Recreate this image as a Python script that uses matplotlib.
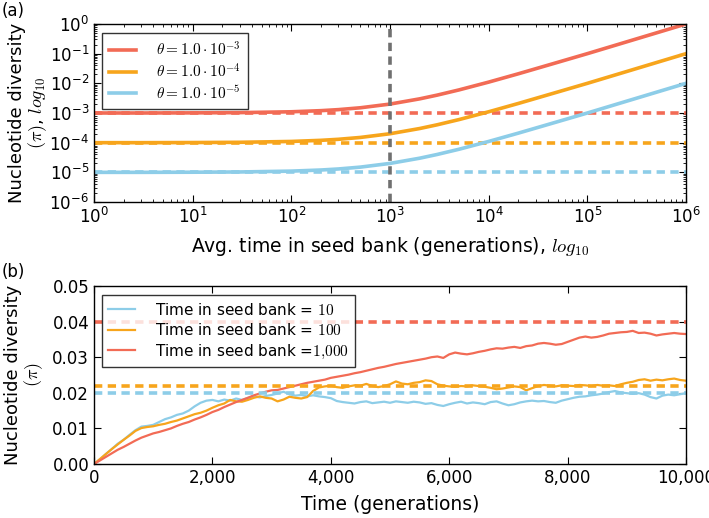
import matplotlib
matplotlib.use("Agg")
import matplotlib.pyplot as plt
from matplotlib.ticker import FuncFormatter, LogLocator, NullFormatter
import numpy as np

plt.rcParams['mathtext.fontset'] = 'cm'
plt.rcParams['font.family'] = ['DejaVu Sans']

RED = '#f26b55'
ORANGE = '#f7a51c'
BLUE = '#8dcde8'

# ---- Panel (a) data ----
seed_time = [1, 3, 10, 30, 100, 200, 300, 500, 1000, 2000, 3000, 5000,
             1e4, 2e4, 5e4, 1e5, 2e5, 5e5, 1e6]
pi_theta3 = [1.0e-3, 1.0e-3, 1.01e-3, 1.03e-3, 1.1e-3, 1.2e-3, 1.3e-3, 1.5e-3,
             2.0e-3, 3.0e-3, 4.0e-3, 6.0e-3, 1.1e-2, 2.1e-2, 5.1e-2, 0.10,
             0.20, 0.50, 1.0]
pi_theta4 = [1.0e-4, 1.0e-4, 1.01e-4, 1.03e-4, 1.1e-4, 1.2e-4, 1.3e-4, 1.5e-4,
             2.0e-4, 3.0e-4, 4.0e-4, 6.0e-4, 1.1e-3, 2.1e-3, 5.1e-3, 1.0e-2,
             2.0e-2, 5.0e-2, 0.10]
pi_theta5 = [1.0e-5, 1.0e-5, 1.01e-5, 1.03e-5, 1.1e-5, 1.2e-5, 1.3e-5, 1.5e-5,
             2.0e-5, 3.0e-5, 4.0e-5, 6.0e-5, 1.1e-4, 2.1e-4, 5.1e-4, 1.0e-3,
             2.0e-3, 5.0e-3, 1.0e-2]
theta_levels = [1e-3, 1e-4, 1e-5]
theta_labels = [r'$\theta = 1.0 \cdot 10^{-3}$', r'$\theta = 1.0 \cdot 10^{-4}$',
                r'$\theta = 1.0 \cdot 10^{-5}$']
ref_time = 1000

# ---- Panel (b) data (every 100 generations) ----
generations = list(range(0, 10001, 100))
pi_blue = [0, 0.0013, 0.0028, 0.0042, 0.0057, 0.0068, 0.0082, 0.0095, 0.0105, 0.0107,
           0.0110, 0.0118, 0.0126, 0.0131, 0.0138, 0.0142, 0.0150, 0.0162, 0.0172, 0.0178,
           0.0180, 0.0176, 0.0181, 0.0178, 0.0184, 0.0180, 0.0186, 0.0190, 0.0187, 0.0191,
           0.0194, 0.0198, 0.0203, 0.0196, 0.0192, 0.0194, 0.0190, 0.0193, 0.0190, 0.0188,
           0.0185, 0.0177, 0.0174, 0.0172, 0.0170, 0.0174, 0.0176, 0.0171, 0.0173, 0.0175,
           0.0172, 0.0176, 0.0174, 0.0172, 0.0175, 0.0173, 0.0169, 0.0171, 0.0166, 0.0163,
           0.0168, 0.0172, 0.0175, 0.0170, 0.0173, 0.0171, 0.0168, 0.0174, 0.0176, 0.0170,
           0.0165, 0.0168, 0.0173, 0.0176, 0.0178, 0.0176, 0.0177, 0.0174, 0.0172, 0.0178,
           0.0182, 0.0186, 0.0189, 0.0190, 0.0193, 0.0195, 0.0198, 0.0202, 0.0205, 0.0201,
           0.0199, 0.0197, 0.0199, 0.0195, 0.0188, 0.0184, 0.0192, 0.0195, 0.0193, 0.0196,
           0.0199]
pi_orange = [0, 0.0014, 0.0028, 0.0042, 0.0055, 0.0068, 0.0080, 0.0093, 0.0101, 0.0104,
             0.0106, 0.0110, 0.0113, 0.0118, 0.0122, 0.0128, 0.0134, 0.0140, 0.0144, 0.0150,
             0.0158, 0.0165, 0.0170, 0.0180, 0.0176, 0.0175, 0.0180, 0.0186, 0.0190, 0.0186,
             0.0184, 0.0176, 0.0181, 0.0189, 0.0186, 0.0184, 0.0188, 0.0205, 0.0215, 0.0218,
             0.0220, 0.0216, 0.0214, 0.0218, 0.0221, 0.0220, 0.0225, 0.0219, 0.0216, 0.0219,
             0.0224, 0.0232, 0.0226, 0.0224, 0.0228, 0.0230, 0.0235, 0.0233, 0.0224, 0.0220,
             0.0218, 0.0217, 0.0219, 0.0218, 0.0221, 0.0219, 0.0217, 0.0214, 0.0210, 0.0212,
             0.0215, 0.0218, 0.0216, 0.0207, 0.0213, 0.0219, 0.0222, 0.0220, 0.0218, 0.0221,
             0.0220, 0.0219, 0.0222, 0.0221, 0.0219, 0.0222, 0.0220, 0.0221, 0.0219, 0.0224,
             0.0228, 0.0231, 0.0236, 0.0238, 0.0234, 0.0237, 0.0235, 0.0238, 0.0240, 0.0236,
             0.0234]
pi_red = [0, 0.0010, 0.0020, 0.0030, 0.0040, 0.0048, 0.0057, 0.0066, 0.0074, 0.0080,
          0.0086, 0.0090, 0.0095, 0.0100, 0.0107, 0.0113, 0.0118, 0.0125, 0.0131, 0.0138,
          0.0146, 0.0152, 0.0160, 0.0167, 0.0174, 0.0180, 0.0186, 0.0193, 0.0198, 0.0203,
          0.0207, 0.0208, 0.0212, 0.0216, 0.0220, 0.0224, 0.0228, 0.0231, 0.0234, 0.0237,
          0.0242, 0.0245, 0.0248, 0.0251, 0.0255, 0.0258, 0.0262, 0.0266, 0.0270, 0.0273,
          0.0277, 0.0281, 0.0284, 0.0287, 0.0290, 0.0293, 0.0296, 0.0300, 0.0302, 0.0298,
          0.0308, 0.0313, 0.0310, 0.0308, 0.0311, 0.0315, 0.0318, 0.0322, 0.0325, 0.0324,
          0.0327, 0.0329, 0.0326, 0.0331, 0.0333, 0.0338, 0.0340, 0.0338, 0.0335, 0.0337,
          0.0343, 0.0349, 0.0355, 0.0358, 0.0355, 0.0357, 0.0361, 0.0366, 0.0368, 0.0370,
          0.0371, 0.0374, 0.0368, 0.0369, 0.0366, 0.0361, 0.0364, 0.0366, 0.0368, 0.0366,
          0.0365]
expected_pi = {'10': 0.020, '100': 0.022, '1000': 0.040}
legend_b = ['Time in seed bank = $10$', 'Time in seed bank = $100$',
            'Time in seed bank =$1{,}000$']

DASH = (0, (2.3, 1.5))

fig = plt.figure(figsize=(7.09, 5.18), dpi=100)
ax1 = fig.add_axes([0.1326, 0.610, 0.835, 0.3437])
ax2 = fig.add_axes([0.1326, 0.1042, 0.835, 0.3437])

# Panel a
for ys, lvl, c, lab in zip([pi_theta3, pi_theta4, pi_theta5], theta_levels,
                           [RED, ORANGE, BLUE], theta_labels):
    ax1.plot(seed_time, ys, color=c, lw=2.6, label=lab)
    ax1.axhline(lvl, color=c, lw=2.6, ls=DASH)
ax1.axvline(ref_time, color='#707070', lw=2.6, ls=DASH)
ax1.set_xscale('log')
ax1.set_yscale('log')
ax1.set_xlim(1, 1e6)
ax1.set_ylim(1e-6, 1)
ax1.xaxis.set_major_locator(LogLocator(base=10, numticks=10))
ax1.yaxis.set_major_locator(LogLocator(base=10, numticks=10))
ax1.xaxis.set_minor_locator(LogLocator(base=10, subs=np.arange(2, 10), numticks=20))
ax1.yaxis.set_minor_locator(LogLocator(base=10, subs=np.arange(2, 10), numticks=20))
ax1.xaxis.set_minor_formatter(NullFormatter())
ax1.yaxis.set_minor_formatter(NullFormatter())
ax1.set_xlabel(r'Avg. time in seed bank (generations), $log_{10}$', fontsize=13.5, labelpad=6)
ax1.set_ylabel('Nucleotide diversity\n' + r'$(\pi)$, $log_{10}$', fontsize=13,
               linespacing=1.05)
ax1.yaxis.set_label_coords(-0.076, 0.5)
leg1 = ax1.legend(loc='upper left', fontsize=11, frameon=True, fancybox=False,
                  edgecolor='black', handlelength=1.8, handletextpad=1.3,
                  borderpad=0.45, labelspacing=0.25, bbox_to_anchor=(0.0, 0.99))
leg1.get_frame().set_linewidth(1.0)

# Panel b
ax2.plot(generations, pi_blue, color=BLUE, lw=1.6, label=legend_b[0])
ax2.plot(generations, pi_orange, color=ORANGE, lw=1.6, label=legend_b[1])
ax2.plot(generations, pi_red, color=RED, lw=1.6, label=legend_b[2])
ax2.axhline(expected_pi['10'], color=BLUE, lw=2.6, ls=DASH)
ax2.axhline(expected_pi['100'], color=ORANGE, lw=2.6, ls=DASH)
ax2.axhline(expected_pi['1000'], color=RED, lw=2.6, ls=DASH)
ax2.set_xlim(0, 10000)
ax2.set_ylim(0, 0.05)
ax2.set_xticks([0, 2000, 4000, 6000, 8000, 10000])
ax2.set_yticks([0, 0.01, 0.02, 0.03, 0.04, 0.05])
ax2.xaxis.set_major_formatter(FuncFormatter(lambda v, p: f'{int(v):,}'))
ax2.yaxis.set_major_formatter(FuncFormatter(lambda v, p: f'{v:.2f}'))
ax2.set_xlabel('Time (generations)', fontsize=13.5, labelpad=6)
ax2.set_ylabel('Nucleotide diversity\n' + r'$(\pi)$', fontsize=13, linespacing=1.05)
ax2.yaxis.set_label_coords(-0.082, 0.5)
leg2 = ax2.legend(loc='upper left', fontsize=11, frameon=True, fancybox=False,
                  edgecolor='black', handlelength=1.8, handletextpad=1.3,
                  borderpad=0.4, labelspacing=0.3, bbox_to_anchor=(0.0, 0.99))
leg2.get_frame().set_linewidth(1.0)

for ax in (ax1, ax2):
    ax.tick_params(which='both', direction='in', top=True, right=True, labelsize=12)
    ax.tick_params(which='major', length=5)
    ax.tick_params(which='minor', length=2.5)
    for s in ax.spines.values():
        s.set_linewidth(1.0)

fig.text(0.002, 0.997, '(a)', fontsize=12, ha='left', va='top')
fig.text(0.002, 0.492, '(b)', fontsize=12, ha='left', va='top')

fig.savefig('out.png', dpi=100)
